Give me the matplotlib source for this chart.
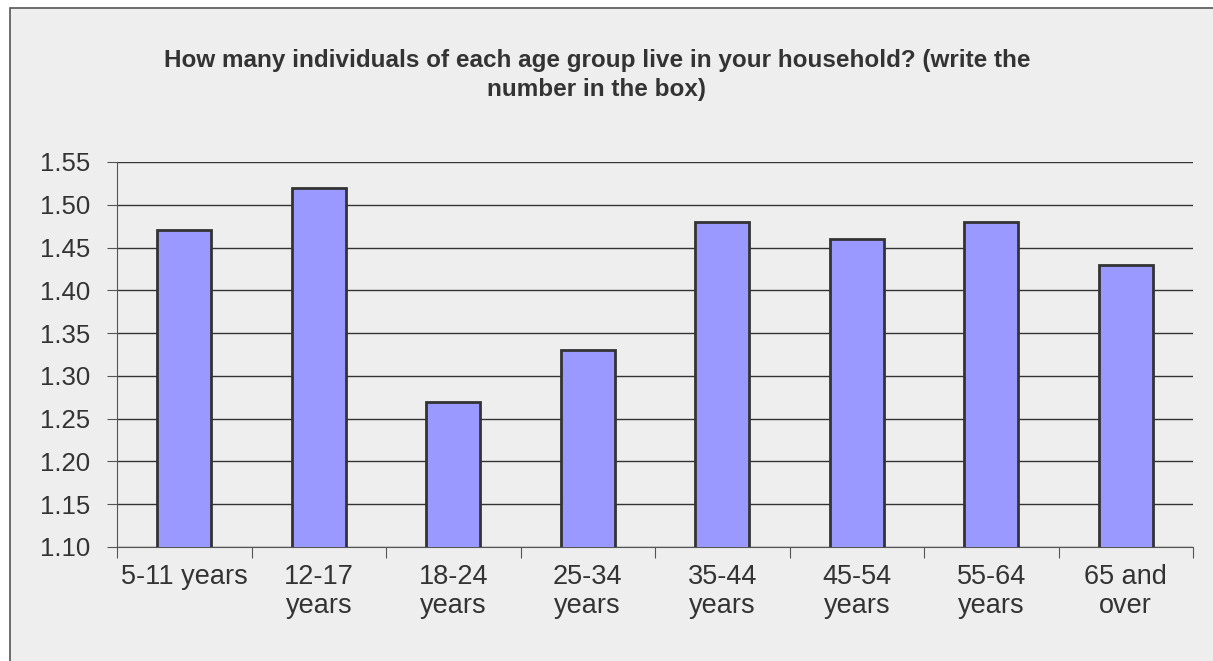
import matplotlib.pyplot as plt
from matplotlib.patches import Rectangle

categories = ["5-11 years", "12-17\nyears", "18-24\nyears", "25-34\nyears",
              "35-44\nyears", "45-54\nyears", "55-64\nyears", "65 and\nover"]
values = [1.47, 1.52, 1.27, 1.33, 1.48, 1.46, 1.48, 1.43]
yticks = [1.10, 1.15, 1.20, 1.25, 1.30, 1.35, 1.40, 1.45, 1.50, 1.55]

plt.rcParams["font.family"] = ["Liberation Sans", "DejaVu Sans"]
bg = "#eeeeee"
txt = "#333333"

fig = plt.figure(figsize=(12.13, 6.61), dpi=100, facecolor="white")
# panel background with border (right/bottom edges fall outside the image)
fig.patches.append(Rectangle((10 / 1213, -0.05), 1.1, 1 - 8 / 661 + 0.05,
                             transform=fig.transFigure, facecolor=bg,
                             edgecolor="#555555", linewidth=1.2, zorder=-1))
ax = fig.add_axes([117 / 1213, 1 - 547 / 661, (1193 - 117) / 1213, (547 - 162) / 661])
ax.set_facecolor(bg)

x = range(len(categories))
ax.bar(x, values, width=0.4, color="#9999ff", edgecolor="#333333", linewidth=2,
       zorder=3)
ax.set_xlim(-0.5, len(categories) - 0.5)
ax.set_ylim(1.10, 1.55)
ax.set_yticks(yticks)
ax.set_yticklabels([f"{v:.2f}" for v in yticks])
ax.yaxis.grid(True, color="#333333", linewidth=1)
ax.set_axisbelow(True)

ax.set_xticks([i - 0.5 for i in range(len(categories) + 1)])
ax.set_xticklabels([])
ax.set_xticks(list(x), minor=True)
ax.set_xticklabels(categories, minor=True, linespacing=1.15)
ax.tick_params(axis="x", which="minor", length=0, pad=12, labelsize=19.5, labelcolor=txt)
ax.tick_params(axis="x", which="major", length=8, color="#555555", direction="out")
ax.tick_params(axis="y", length=7, color="#555555", labelsize=18.5, labelcolor=txt, pad=12)

for s in ["top", "right"]:
    ax.spines[s].set_visible(False)
for s in ["left", "bottom"]:
    ax.spines[s].set_color("#555555")

fig.text(0.492, 1 - 75 / 661,
         "How many individuals of each age group live in your household? (write the\nnumber in the box)",
         ha="center", va="center", fontsize=17.5, fontweight="bold", color=txt, linespacing=1.3)

plt.savefig("out.png", dpi=100, facecolor="white")
